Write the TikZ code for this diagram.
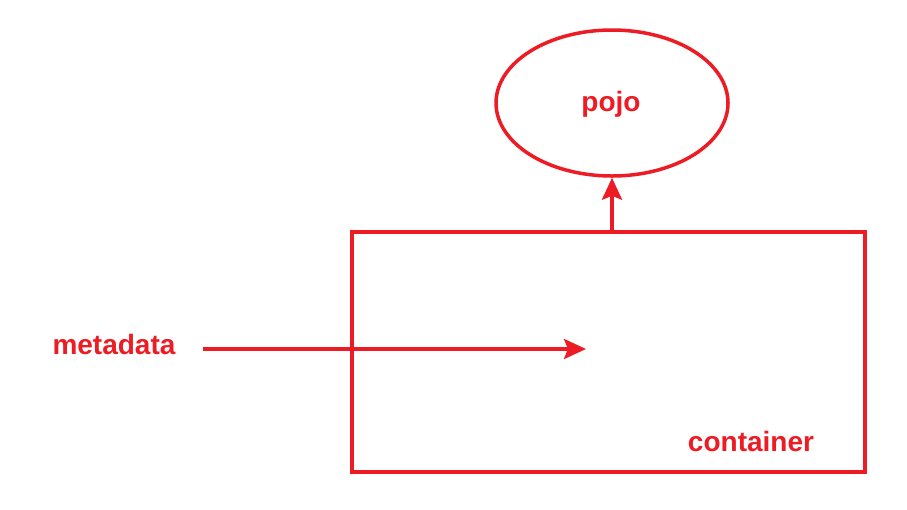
\documentclass[tikz,border=0pt]{standalone}
\usepackage{fontspec}
\setmainfont{Liberation Sans}
\usetikzlibrary{shapes.geometric,arrows.meta}
\definecolor{cred}{RGB}{237,28,36}
\tikzset{
  lbl/.style={text=cred,font=\fontsize{28}{32}\selectfont\bfseries,inner sep=0pt},
  shp/.style={draw=cred,line width=3.5pt},
  conn/.style={draw=cred,line width=3.5pt,-{Stealth[length=22pt,width=20pt,inset=4pt]}}
}
\begin{document}
\begin{tikzpicture}[x=1pt,y=-1pt]
\useasboundingbox (0,0) rectangle (907,509);
\node[shp,ellipse,minimum width=232pt,minimum height=146pt,inner sep=0pt] (pojo) at (612,103) {};
\node[lbl] (pojot) at (611,104) {pojo};
\node[shp,rectangle,minimum width=513pt,minimum height=240pt,inner sep=0pt] (box) at (608.5,352) {};
\node[lbl] (cont) at (751,441) {container};
\node[lbl] (meta) at (114,344) {metadata};
\coordinate (mstart) at (203,349);
\coordinate (mend) at (586,349);
\coordinate (up) at (612,232);
\draw[conn] (mstart) -- (mend);
\draw[conn] (up) -- (pojo.south);
\end{tikzpicture}
\end{document}
